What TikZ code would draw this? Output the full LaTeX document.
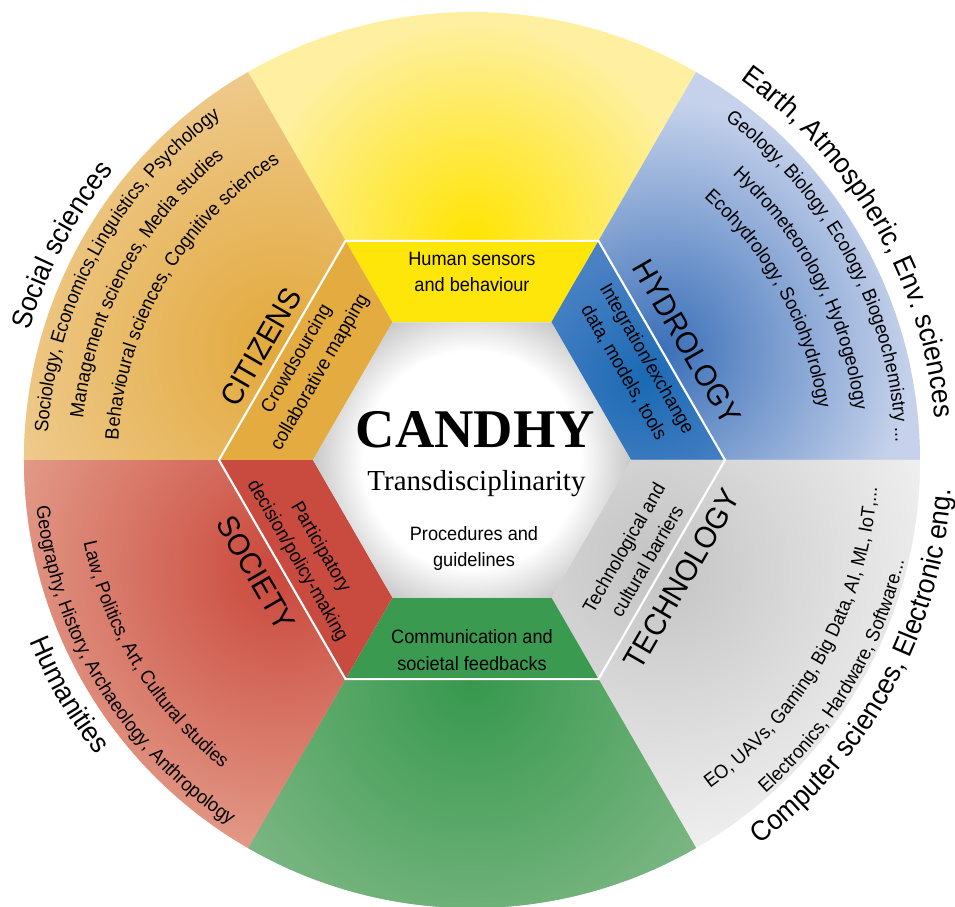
\documentclass[tikz,border=0pt]{standalone}
\usepackage{fontspec}
\setmainfont{Liberation Serif}
\newfontfamily\narrowsf{Liberation Sans}[FakeStretch=0.94]
\usepackage{tikz}
\usetikzlibrary{positioning, decorations.text}

\definecolor{yellowIn}{HTML}{FFE400}
\definecolor{yellowOut}{HTML}{FEF0A0}
\definecolor{blueIn}{HTML}{3A6FB8}
\definecolor{blueOut}{HTML}{C6D2EB}
\definecolor{greyIn}{HTML}{C4C4C4}
\definecolor{greyOut}{HTML}{EEEEEE}
\definecolor{greenIn}{HTML}{36984D}
\definecolor{greenOut}{HTML}{7DB784}
\definecolor{redIn}{HTML}{C9473B}
\definecolor{redOut}{HTML}{E39C8A}
\definecolor{orangeIn}{HTML}{E2A83A}
\definecolor{orangeOut}{HTML}{EEC98A}
\definecolor{yellowBand}{HTML}{FFE60A}
\definecolor{blueBand}{HTML}{1A6AB4}
\definecolor{blueBandLight}{HTML}{4A81C4}
\definecolor{greyBand}{HTML}{C4C4C4}
\definecolor{greyBandLight}{HTML}{D6D6D6}
\definecolor{greenBand}{HTML}{3A9A50}
\definecolor{redBand}{HTML}{C94A3E}
\definecolor{orangeBand}{HTML}{E3AB40}

\newcommand{\arcsmall}{\narrowsf\fontsize{11}{13}\selectfont}
\newcommand{\arcbig}{\narrowsf\fontsize{16}{19}\selectfont}

\pgfdeclareradialshading{hexglow}{\pgfpoint{0bp}{0bp}}{color(0bp)=(white); color(17bp)=(white); color(25bp)=(black!22); color(50bp)=(black!22)}

\tikzstyle{hexText}=[font=\narrowsf\fontsize{11}{15.2}\selectfont, align=center, inner sep=0pt]
\tikzstyle{sectorTitle}=[font=\narrowsf\fontsize{17.4}{20}\selectfont, inner sep=0pt]
\tikzstyle{hexOutline}=[white, line width=1.2pt, line join=miter]
\tikzstyle{arcText}=[decorate, decoration={text along path, text align=center}]

\begin{document}
\begin{tikzpicture}
    \useasboundingbox (-9.44,-8.94) rectangle (9.66,9.2);

    % outer ring
    \begin{scope}
        \clip (60:5.06) -- (60:8.96) arc[start angle=60, end angle=120, radius=8.96] -- (120:5.06) -- cycle;
        \fill[yellowOut] (0,0) circle (9);
        \shade[inner color=yellowIn, outer color=yellowOut] (90:4.38) circle (4.4);
    \end{scope}
    \begin{scope}
        \clip (0:5.06) -- (0:8.96) arc[start angle=0, end angle=60, radius=8.96] -- (60:5.06) -- cycle;
        \fill[blueOut] (0,0) circle (9);
        \shade[inner color=blueIn, outer color=blueOut] (30:4.38) circle (5.0);
    \end{scope}
    \begin{scope}
        \clip (-60:5.06) -- (-60:8.96) arc[start angle=-60, end angle=0, radius=8.96] -- (0:5.06) -- cycle;
        \fill[greyOut] (0,0) circle (9);
        \shade[inner color=greyIn, outer color=greyOut] (-30:4.38) circle (5.5);
    \end{scope}
    \begin{scope}
        \clip (240:5.06) -- (240:8.96) arc[start angle=240, end angle=300, radius=8.96] -- (300:5.06) -- cycle;
        \fill[greenOut] (0,0) circle (9);
        \shade[inner color=greenIn, outer color=greenOut] (270:4.38) circle (5.8);
    \end{scope}
    \begin{scope}
        \clip (180:5.06) -- (180:8.96) arc[start angle=180, end angle=240, radius=8.96] -- (240:5.06) -- cycle;
        \fill[redOut] (0,0) circle (9);
        \shade[inner color=redIn, outer color=redOut] (210:4.38) circle (5.8);
    \end{scope}
    \begin{scope}
        \clip (120:5.06) -- (120:8.96) arc[start angle=120, end angle=180, radius=8.96] -- (180:5.06) -- cycle;
        \fill[orangeOut] (0,0) circle (9);
        \shade[inner color=orangeIn, outer color=orangeOut] (150:4.38) circle (5.5);
    \end{scope}

    % hexagon bands
    \fill[yellowBand] (60:5.06) -- (120:5.06) -- (120:3.18) -- (60:3.18) -- cycle;
    \begin{scope}
        \clip (0:5.06) -- (60:5.06) -- (60:3.18) -- (0:3.18) -- cycle;
        \fill[blueBandLight] (0,0) circle (5.1);
        \shade[inner color=blueBand, outer color=blueBandLight] (25:3.8) circle (2.5);
    \end{scope}
    \begin{scope}
        \clip (-60:5.06) -- (0:5.06) -- (0:3.18) -- (-60:3.18) -- cycle;
        \fill[greyBandLight] (0,0) circle (5.1);
        \shade[inner color=greyBand, outer color=greyBandLight] (-30:4.1) circle (2.6);
    \end{scope}
    \fill[greenBand] (240:5.06) -- (300:5.06) -- (300:3.18) -- (240:3.18) -- cycle;
    \fill[redBand] (180:5.06) -- (240:5.06) -- (240:3.18) -- (180:3.18) -- cycle;
    \fill[orangeBand] (120:5.06) -- (180:5.06) -- (180:3.18) -- (120:3.18) -- cycle;

    \begin{scope}
        \clip (0:3.18) -- (60:3.18) -- (120:3.18) -- (180:3.18) -- (240:3.18) -- (300:3.18) -- cycle;
        \shade[shading=hexglow] (0,0) circle (3.2);
    \end{scope}
    \draw[hexOutline] (0:5.06) -- (60:5.06) -- (120:5.06) -- (180:5.06) -- (240:5.06) -- (300:5.06) -- cycle;

    % centre
    \node[anchor=base, inner sep=0pt, font=\bfseries\fontsize{31}{34}\selectfont] (candhy) at (0.07,0.24) {CANDHY};
    \node[anchor=base, inner sep=0pt, font=\fontsize{16.5}{19}\selectfont] (transd) at (0.09,-0.62) {Transdisciplinarity};
    \node[hexText] (procedures) at (0.04,-1.77) {Procedures and\\guidelines};

    \node[hexText] (sensors) at (0,3.76) {Human sensors\\and behaviour};
    \node[hexText] (feedbacks) at (0,-3.8) {Communication and\\societal feedbacks};
    \node[hexText, rotate=60] (crowd) at (150:3.77) {Crowdsourcing\\collaborative mapping};
    \node[hexText, rotate=-60] (integration) at (30:3.77) {Integration/exchange\\data, models, tools};
    \node[hexText, rotate=-60] (participatory) at (210:3.77) {Participatory\\decision/policy-making};
    \node[hexText, rotate=60] (barriers) at (330:3.77) {Technological and\\cultural barriers};

    \node[sectorTitle, rotate=60] (citizens) at (-4.22,2.26) {CITIZENS};
    \node[sectorTitle, rotate=-60] (hydrology) at (4.3,2.36) {HYDROLOGY};
    \node[sectorTitle, rotate=-60] (society) at (-4.32,-2.26) {SOCIETY};
    \node[sectorTitle, rotate=60] (technology) at (4.2,-2.38) {TECHNOLOGY};

    % curved lists
    \path[arcText, decoration={text={|\arcsmall|Sociology, Economics,Linguistics, Psychology}}] (191.3:8.5) arc[start angle=191.3, end angle=111.3, radius=8.5];
    \path[arcText, decoration={text={|\arcsmall|Management sciences, Media studies}}] (191.6:7.82) arc[start angle=191.6, end angle=111.6, radius=7.82];
    \path[arcText, decoration={text={|\arcsmall|Behavioural sciences, Cognitive sciences}}] (189.8:7.08) arc[start angle=189.8, end angle=109.8, radius=7.08];

    \path[arcText, decoration={text={|\arcsmall|Geology, Biology, Ecology, Biogeochemistry ...}}] (67.9:8.48) arc[start angle=67.9, end angle=-12.1, radius=8.48];
    \path[arcText, decoration={text={|\arcsmall|Hydrometeorology, Hydrogeology}}] (67.5:7.72) arc[start angle=67.5, end angle=-12.5, radius=7.72];
    \path[arcText, decoration={text={|\arcsmall|Ecohydrology, Sociohydrology}}] (68.5:7.0) arc[start angle=68.5, end angle=-11.5, radius=7.0];

    \path[arcText, decoration={text={|\arcsmall|Law, Politics, Art, Cultural studies}}] (171.5:7.94) arc[start angle=171.5, end angle=251.5, radius=7.94];
    \path[arcText, decoration={text={|\arcsmall|Geography, History, Archaeology, Anthropology}}] (171.2:8.76) arc[start angle=171.2, end angle=251.2, radius=8.76];

    \path[arcText, decoration={text={|\arcsmall|EO, UAVs, Gaming, Big Data, AI, ML, IoT,...}}] (291:8.12) arc[start angle=291, end angle=371, radius=8.12];
    \path[arcText, decoration={text={|\arcsmall|Electronics, Hardware, Software...}}] (289.1:8.88) arc[start angle=289.1, end angle=369.1, radius=8.88];

    % outer labels
    \path[arcText, decoration={text={|\arcbig|Social sciences}}] (192.4:9.22) arc[start angle=192.4, end angle=112.4, radius=9.22];
    \path[arcText, decoration={text={|\arcbig|Earth, Atmospheric, Env. sciences}}] (75:9.3) arc[start angle=75, end angle=-15, radius=9.3];
    \path[arcText, decoration={text={|\arcbig|Humanities}}] (170.2:9.56) arc[start angle=170.2, end angle=250.2, radius=9.56];
    \path[arcText, decoration={text={|\arcbig|Computer sciences, Electronic eng.}}] (286.6:9.6) arc[start angle=286.6, end angle=376.6, radius=9.6];

\end{tikzpicture}
\end{document}
